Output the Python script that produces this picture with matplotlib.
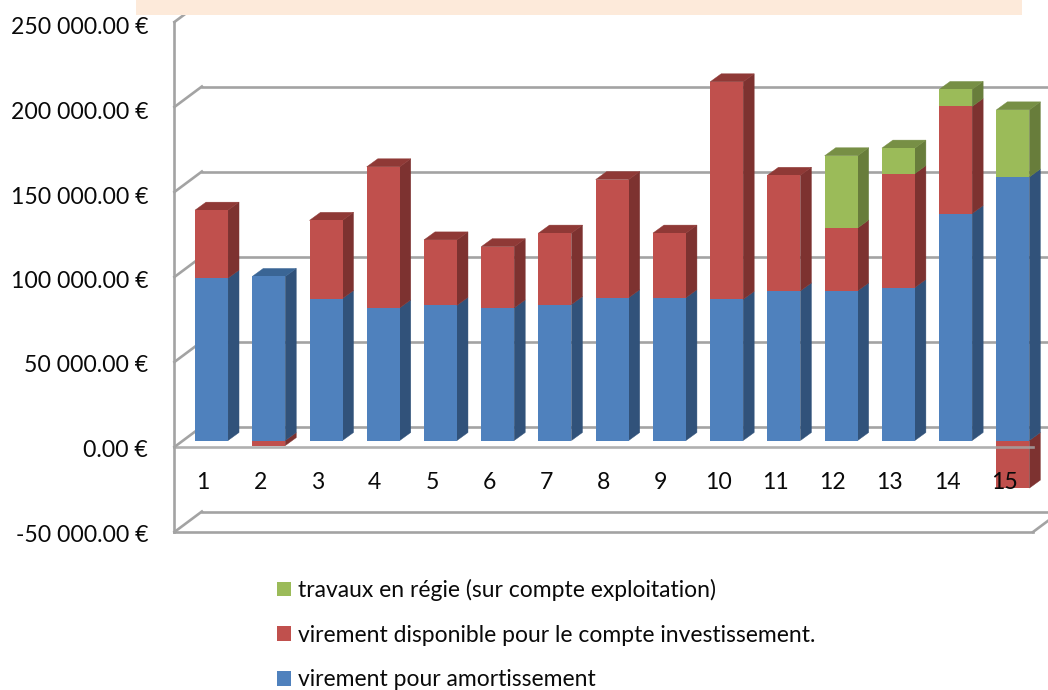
import matplotlib
matplotlib.use("Agg")
import matplotlib.pyplot as plt
from matplotlib.patches import Polygon, Rectangle
from matplotlib.transforms import Affine2D

plt.rcParams['font.family'] = ['Lato', 'DejaVu Sans']

categories = list(range(1, 16))
amortissement = [95500, 96500, 83500, 78000, 79500, 78000, 80000, 84000, 84000, 83000, 88000, 88000, 90000, 133500, 155000]
investissement = [40000, -3000, 46000, 83000, 38500, 36000, 42000, 69500, 38000, 128000, 68000, 37000, 67000, 63000, -28000]
travaux = [0, 0, 0, 0, 0, 0, 0, 0, 0, 0, 0, 42500, 15000, 10000, 39500]

y_ticks = [-50000, 0, 50000, 100000, 150000, 200000, 250000]
y_labels = ["-50 000.00 €", "0.00 €", "50 000.00 €", "100 000.00 €", "150 000.00 €", "200 000.00 €", "250 000.00 €"]

series_names = ["virement pour amortissement", "virement disponible pour le compte investissement.", "travaux en régie (sur compte exploitation)"]
front_colors = ["#4F81BD", "#C0504D", "#9BBB59"]
side_colors = ["#31527A", "#7D3230", "#687D3B"]
top_colors = ["#3A6595", "#8F3936", "#778F45"]

W, H = 1048, 690
wall = "#A3A3A3"
wall_lw = 1.9

fig = plt.figure(figsize=(W / 100, H / 100), dpi=100)
ax = fig.add_axes([174.4 / W, (H - 532) / H, (1033 - 174.4) / W, 510 / H])
ax.set_xlim(0.5, 15.5)
ax.set_ylim(-50000, 250000)

# px to data units
px_x = 15 / 858.6
px_y = 300000 / 510

# back wall and the diagonals going to it
back_dx = 27.5 * px_x
back_dy = 20.5 * px_y
for v in y_ticks:
    ax.plot([0.5, 0.5 + back_dx], [v, v + back_dy], color=wall, lw=wall_lw, clip_on=False, zorder=0.5)
    if v < 250000:
        ax.plot([0.5 + back_dx, 16.5], [v + back_dy, v + back_dy], color=wall, lw=wall_lw, clip_on=False, zorder=0.5)
ax.plot([15.5, 15.5 + back_dx], [-50000, -50000 + back_dy], color=wall, lw=wall_lw, clip_on=False, zorder=0.5)
ax.plot([0.5, 15.5], [-50000, -50000], color=wall, lw=wall_lw, clip_on=False, zorder=0.5)

# bars stand a little behind the front plane
bar_trans = ax.transData + Affine2D().translate(8.5, 6.5)
bar_w = 33 * px_x
depth_x = 11 * px_x
depth_y = 8 * px_y


def draw_box(x, bottom, height, k, top_face, z):
    left = x - bar_w / 2
    right = x + bar_w / 2
    upper = bottom + height
    side = [(right, bottom), (right + depth_x, bottom + depth_y), (right + depth_x, upper + depth_y), (right, upper)]
    ax.add_patch(Polygon(side, closed=True, fc=side_colors[k], ec=side_colors[k], lw=0.3, transform=bar_trans, clip_on=False, zorder=z))
    if top_face:
        top = [(left, upper), (right, upper), (right + depth_x, upper + depth_y), (left + depth_x, upper + depth_y)]
        ax.add_patch(Polygon(top, closed=True, fc=top_colors[k], ec=top_colors[k], lw=0.3, transform=bar_trans, clip_on=False, zorder=z))


legend_handles = [None, None, None]
for i, c in enumerate(categories):
    z = 1 + i * 0.01
    pos = 0
    vals = [amortissement[i], investissement[i], travaux[i]]
    last = max(k for k in range(3) if vals[k] > 0)
    # negative part first, it sits under the stack
    for k, v in enumerate(vals):
        if v < 0:
            draw_box(c, v, -v, k, False, z)
            b = ax.bar(c, v, width=bar_w, color=front_colors[k], transform=bar_trans, clip_on=False, zorder=z)
            legend_handles[k] = legend_handles[k] or b
    for k, v in enumerate(vals):
        if v > 0:
            draw_box(c, pos, v, k, k == last, z)
            b = ax.bar(c, v, bottom=pos, width=bar_w, color=front_colors[k], transform=bar_trans, clip_on=False, zorder=z)
            legend_handles[k] = legend_handles[k] or b
            pos += v

ax.set_xlim(0.5, 15.5)
ax.set_ylim(-50000, 250000)

for s in ["top", "right"]:
    ax.spines[s].set_visible(False)
ax.spines["left"].set_color(wall)
ax.spines["left"].set_linewidth(wall_lw)
ax.spines["bottom"].set_position(("data", 0))
ax.spines["bottom"].set_color(wall)
ax.spines["bottom"].set_linewidth(wall_lw)
ax.spines["bottom"].set_alpha(0.85)
ax.set_axisbelow(False)
ax.patch.set_visible(False)

ax.set_xticks(categories)
ax.set_xticklabels(categories)
ax.set_yticks(y_ticks)
ax.set_yticklabels(y_labels)
ax.tick_params(axis="x", length=0, pad=18, labelsize=16.6, labelcolor="#0A0A0A")
ax.tick_params(axis="y", length=0, pad=19, labelsize=16.6, labelcolor="#0A0A0A")

# labels sit slightly below their lines, more so near the top
for lab, v in zip(ax.get_yticklabels(), y_ticks):
    lab.set_transform(lab.get_transform() + Affine2D().translate(0, -1 - 3 * (v + 50000) / 300000))

leg = ax.legend(
    [legend_handles[2], legend_handles[1], legend_handles[0]],
    [series_names[2], series_names[1], series_names[0]],
    loc="upper left",
    bbox_to_anchor=(277 / W, (H - 579) / H),
    bbox_transform=fig.transFigure,
    frameon=False,
    fontsize=16.5,
    borderpad=0,
    borderaxespad=0,
    labelspacing=1.03,
    handlelength=0.61,
    handleheight=0.61,
    handletextpad=0.3,
)
for t in leg.get_texts():
    t.set_color("#0A0A0A")

# pale box cut off at the top of the picture
fig.add_artist(Rectangle((136 / W, (H - 15) / H), (1022 - 136) / W, 15 / H, transform=fig.transFigure, fc="#FDEADA", ec="none"))

fig.savefig("out.png", dpi=100)
